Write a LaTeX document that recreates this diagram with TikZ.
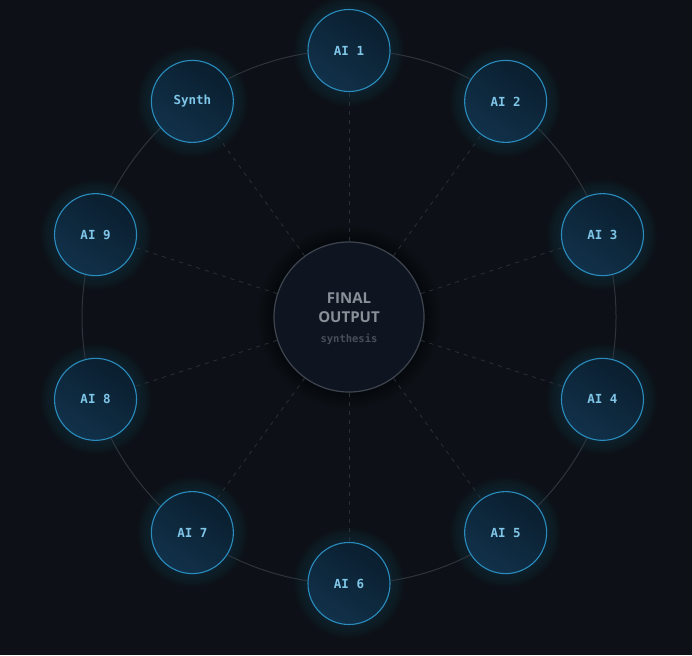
\documentclass[tikz,border=0pt]{standalone}
\usepackage{fontspec}
\setsansfont{Open Sans}
\setmonofont{DejaVu Sans Mono}
\definecolor{bgdark}{HTML}{0D1117}
\definecolor{ringgray}{HTML}{2E343B}
\definecolor{spokegray}{HTML}{283038}
\definecolor{agentlight}{HTML}{11314A}
\definecolor{agentdark}{HTML}{0A1E2E}
\definecolor{agentline}{HTML}{2A8CBC}
\definecolor{agenttext}{HTML}{80C6E8}
\definecolor{agentglow}{HTML}{1E7FB0}
\definecolor{hubfill}{HTML}{0E1520}
\definecolor{hubline}{HTML}{3E454E}
\definecolor{hubtext}{HTML}{8A9098}
\definecolor{subtext}{HTML}{474F59}

\begin{document}
\begin{tikzpicture}[x=1pt,y=-1pt,
  agent/.style={circle,draw=agentline,line width=1.1pt,top color=agentdark,bottom color=agentlight,
    shading angle=-35,minimum size=82pt,inner sep=0pt,
    text=agenttext,font=\ttfamily\bfseries\fontsize{12.5}{13}\selectfont},
  hub/.style={circle,draw=hubline,line width=1.2pt,fill=hubfill,minimum size=150pt,inner sep=0pt},
  hubtitle/.style={align=center,text=hubtext,font=\sffamily\bfseries\fontsize{15}{18.5}\selectfont},
  hubsub/.style={text=subtext,font=\ttfamily\bfseries\fontsize{10.5}{12}\selectfont},
  spoke/.style={draw=spokegray,line width=0.8pt,dash pattern=on 4pt off 5pt}]
\fill[bgdark] (0,0) rectangle (692,655);
\useasboundingbox (0,0) rectangle (692,655);

% glow and shadow
\foreach \a in {0,36,...,324}
  \foreach \g in {1,...,10}
    \fill[agentglow,opacity=0.018] ({349+266*sin(\a)},{317-266*cos(\a)}) circle (41+1.4*\g);
\foreach \g in {1,...,8}
  \fill[black,opacity=0.05] (349,317) circle (75+2*\g);

\draw[ringgray,line width=1pt] (349,317) circle (267);

\node[hub] (hub) at (349,317) {};
\node[hubtitle] (title) at (349,307.5) {FINAL\\OUTPUT};
\node[hubsub] (sub) at (349,339.5) {synthesis};

\foreach \a/\name/\txt in {0/ai1/AI 1,36/ai2/AI 2,72/ai3/AI 3,108/ai4/AI 4,144/ai5/AI 5,
    180/ai6/AI 6,216/ai7/AI 7,252/ai8/AI 8,288/ai9/AI 9,324/synth/Synth}
  {
    \node[agent] (\name) at ({349+266.5*sin(\a)},{317-266.5*cos(\a)}) {\txt};
  }

\foreach \name in {ai1,ai2,ai3,ai4,ai5,ai6,ai7,ai8,ai9,synth}
  \draw[spoke] (hub) -- (\name);

\end{tikzpicture}
\end{document}
